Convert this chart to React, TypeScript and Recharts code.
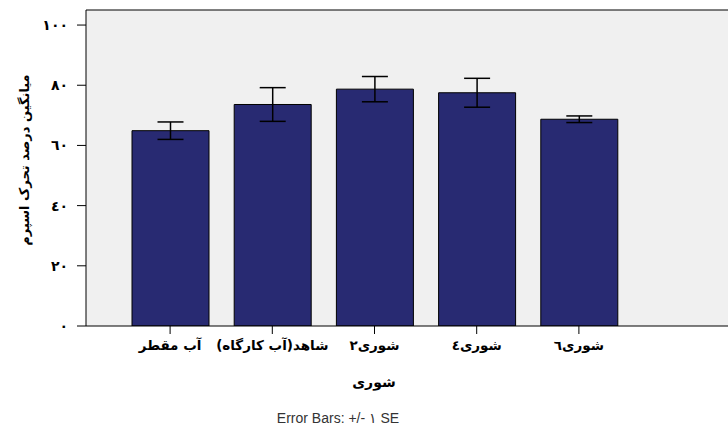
import React from "react";
import {
  BarChart,
  Bar,
  XAxis,
  YAxis,
  CartesianGrid,
  ErrorBar,
  ReferenceLine,
  Label,
} from "recharts";

const categories = ["آب مقطر", "شاهد(آب کارگاه)", "شوری٢", "شوری٤", "شوری٦"];
const means = [64.9, 73.6, 78.7, 77.5, 68.7];
const standardErrors = [2.9, 5.6, 4.2, 4.8, 1.1];
const yTicks = [0, 20, 40, 60, 80, 100];
const yTickLabels = ["٠", "٢٠", "٤٠", "٦٠", "٨٠", "١٠٠"];

const data = categories.map((c, i) => ({
  name: c,
  mean: means[i],
  se: standardErrors[i],
}));

const FONT = "'DejaVu Sans', Tahoma, sans-serif";

const XTick = (props: any) => {
  const { x, y, payload } = props;
  return (
    <text
      x={x}
      y={y}
      dy="0.9em"
      textAnchor="middle"
      direction="rtl"
      fontFamily={FONT}
      fontWeight="bold"
      fontSize={13.5}
      fill="#000"
    >
      {payload.value}
    </text>
  );
};

const YTitle = (props: any) => {
  const vb = props.viewBox || {};
  const cx = vb.x + 24;
  const cy = vb.y + vb.height / 2 - 8;
  return (
    <text
      x={cx}
      y={cy}
      transform={`rotate(-90, ${cx}, ${cy})`}
      textAnchor="middle"
      dominantBaseline="central"
      direction="rtl"
      fontFamily={FONT}
      fontWeight="bold"
      fontSize={13}
      fill="#000"
    >
      میانگین درصد تحرک اسپرم
    </text>
  );
};

const XTitle = (props: any) => {
  const vb = props.viewBox || {};
  const cx = vb.x + vb.width / 2 - 33;
  const cy = vb.y + 56;
  return (
    <text
      x={cx}
      y={cy}
      textAnchor="middle"
      dominantBaseline="central"
      direction="rtl"
      fontFamily={FONT}
      fontWeight="bold"
      fontSize={14}
      fill="#000"
    >
      شوری
    </text>
  );
};

export default function App() {
  return (
    <div style={{ position: "relative", width: 728, height: 426, background: "#fff" }}>
      <style>{`body{margin:0;}`}</style>
      <BarChart
        width={728}
        height={426}
        data={data}
        margin={{ top: 10, right: 0, left: 0, bottom: 0 }}
      >
        <CartesianGrid fill="#f0f0f0" horizontal={false} vertical={false} />
        <XAxis
          dataKey="name"
          height={100}
          tickSize={8}
          tickMargin={4}
          tick={<XTick />}
          tickLine={{ stroke: "#000" }}
          axisLine={{ stroke: "#000" }}
          padding={{ left: 33, right: 98 }}
          interval={0}
        >
          <Label content={<XTitle />} />
        </XAxis>
        <YAxis
          width={86}
          domain={[0, 105]}
          ticks={yTicks}
          tickSize={9}
          tickMargin={9}
          tickLine={{ stroke: "#000" }}
          axisLine={{ stroke: "#000" }}
          tickFormatter={(v: number) => yTickLabels[yTicks.indexOf(v)]}
          tick={{ fill: "#000", fontFamily: FONT, fontWeight: "bold", fontSize: 14 }}
          allowDataOverflow
        >
          <Label content={<YTitle />} />
        </YAxis>
        <ReferenceLine y={105} stroke="#000" ifOverflow="extendDomain" />
        <Bar
          dataKey="mean"
          fill="#282a72"
          stroke="#000"
          strokeWidth={1}
          barSize={77}
          isAnimationActive={false}
        >
          <ErrorBar dataKey="se" width={13} stroke="#000" strokeWidth={1.5} isAnimationActive={false} />
        </Bar>
      </BarChart>
      <div
        style={{
          position: "absolute",
          top: 410,
          left: 0,
          width: 676,
          textAlign: "center",
          fontFamily: "'Liberation Sans', Arial, 'DejaVu Sans', sans-serif",
          fontSize: 14,
          color: "#333",
        }}
      >
        Error Bars: +/- ١ SE
      </div>
    </div>
  );
}
